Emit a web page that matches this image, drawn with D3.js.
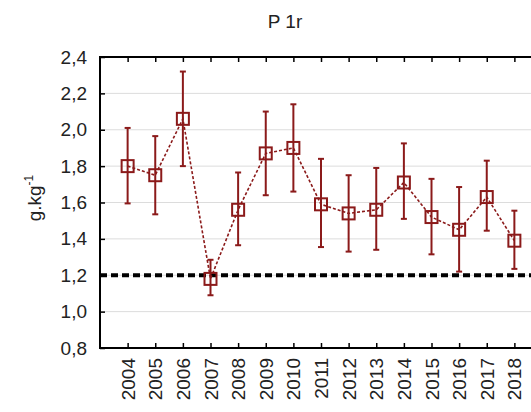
<!DOCTYPE html>
<html><head><meta charset="utf-8">
<script src="https://cdn.jsdelivr.net/npm/d3@7"></script>
<style>body{margin:0;background:#fff;} svg{display:block;} text{font-family:"Liberation Sans",Arial,sans-serif;}</style>
</head><body><svg id="c" width="531" height="412"></svg>
<script>
const years = ["2004","2005","2006","2007","2008","2009","2010","2011","2012","2013","2014","2015","2016","2017","2018"];
const means = [1.80,1.75,2.06,1.18,1.56,1.87,1.90,1.59,1.54,1.56,1.71,1.52,1.45,1.63,1.39];
const upper = [2.01,1.965,2.32,1.285,1.765,2.10,2.14,1.84,1.75,1.79,1.925,1.73,1.685,1.83,1.555];
const lower = [1.595,1.535,1.80,1.09,1.365,1.64,1.66,1.355,1.33,1.34,1.51,1.315,1.22,1.445,1.235];
const yTicks = [0.8,1.0,1.2,1.4,1.6,1.8,2.0,2.2,2.4];
const refLine = 1.2;
const title = "P 1r";

const svg = d3.select("#c");
const L = 100, T = 57, B = 348, R = 542;
const x = d3.scalePoint().domain(years).range([L, R]).padding(1);
const y = d3.scaleLinear().domain([0.8, 2.4]).range([B, T]);
const red = "#8b1a1a";
const fmt = v => d3.format(".1f")(v).replace(".", ",");
const FS = 19;

// grid
svg.append("g").selectAll("line").data(yTicks.slice(1)).join("line")
  .attr("x1", L).attr("x2", R).attr("y1", d => y(d)).attr("y2", d => y(d))
  .attr("stroke", "#dcdcdc").attr("stroke-width", 1);

// reference line
svg.append("line").attr("x1", L).attr("x2", R).attr("y1", y(refLine)).attr("y2", y(refLine))
  .attr("stroke", "#000").attr("stroke-width", 4).attr("stroke-dasharray", "7,4");

// left axis
const ya = svg.append("g").attr("transform", `translate(${L},0)`)
  .call(d3.axisLeft(y).tickValues(yTicks).tickFormat(fmt).tickSize(-5).tickPadding(13));
ya.select(".domain").remove();
ya.selectAll("line").attr("stroke", "#000").attr("stroke-width", 1.5);
ya.selectAll("text").attr("font-size", FS).attr("fill", "#222");

// bottom axis
const xa = svg.append("g").attr("transform", `translate(0,${B})`)
  .call(d3.axisBottom(x).tickSize(-5).tickPadding(0));
xa.select(".domain").remove();
xa.selectAll("line").attr("stroke", "#000").attr("stroke-width", 1.5);
xa.selectAll("text").attr("font-size", FS).attr("fill", "#222")
  .attr("text-anchor", "end").attr("dy", null)
  .attr("transform", "translate(0,10) rotate(-90)").attr("dominant-baseline", "central");

// top ticks
const ta = svg.append("g").attr("transform", `translate(0,${T})`)
  .call(d3.axisTop(x).tickSize(-5).tickFormat(""));
ta.select(".domain").remove();
ta.selectAll("line").attr("stroke", "#000").attr("stroke-width", 1.5);

// frame
svg.append("path").attr("d", `M${R},${T}H${L}V${B}H${R}`).attr("fill", "none")
  .attr("stroke", "#000").attr("stroke-width", 2);

// data line
const pts = years.map((d, i) => [x(d), y(means[i])]);
svg.append("path").attr("d", d3.line()(pts)).attr("fill", "none")
  .attr("stroke", red).attr("stroke-width", 1.6).attr("stroke-dasharray", "3,2");

// error bars
const eb = svg.append("g").attr("stroke", red).attr("stroke-width", 2);
years.forEach((d, i) => {
  const cx = x(d);
  eb.append("line").attr("x1", cx).attr("x2", cx).attr("y1", y(upper[i])).attr("y2", y(lower[i]));
  eb.append("line").attr("x1", cx - 3).attr("x2", cx + 3).attr("y1", y(upper[i])).attr("y2", y(upper[i]));
  eb.append("line").attr("x1", cx - 3).attr("x2", cx + 3).attr("y1", y(lower[i])).attr("y2", y(lower[i]));
});

// markers
svg.append("g").selectAll("rect").data(years).join("rect")
  .attr("x", d => x(d) - 6).attr("y", (d, i) => y(means[i]) - 6)
  .attr("width", 12).attr("height", 12).attr("fill", "none")
  .attr("stroke", red).attr("stroke-width", 2);

// title
svg.append("text").attr("x", 285).attr("y", 28).attr("text-anchor", "middle")
  .attr("font-size", FS).attr("fill", "#222").text(title);

// y title
const yt = svg.append("text").attr("transform", "translate(41,198) rotate(-90)")
  .attr("text-anchor", "middle").attr("font-size", FS).attr("fill", "#222");
yt.append("tspan").text("g.kg");
yt.append("tspan").attr("font-size", 12).attr("dy", -8).text("-1");
</script></body></html>
